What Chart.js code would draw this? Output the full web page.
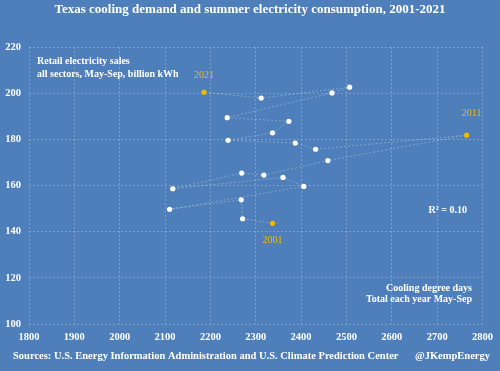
<!DOCTYPE html>
<html>
<head>
<meta charset="utf-8">
<script src="https://cdn.jsdelivr.net/npm/chart.js@4"></script>
<style>
  html, body { margin: 0; padding: 0; background: #4f7fba; }
  #wrap { width: 500px; height: 371px; position: relative; }
</style>
</head>
<body>
<div id="wrap"><canvas id="cdd"></canvas></div>
<script>
// May-Sep cooling degree days and retail electricity sales, Texas
const years = [2001, 2002, 2003, 2004, 2005, 2006, 2007, 2008, 2009, 2010, 2011,
               2012, 2013, 2014, 2015, 2016, 2017, 2018, 2019, 2020, 2021];
const coolingDegreeDays = [2337, 2271, 2268, 2110, 2406, 2360, 2117, 2269, 2318, 2459, 2765,
                           2432, 2387, 2239, 2337, 2373, 2237, 2468, 2507, 2312, 2186];
const salesBillionKwh = [143.6, 145.6, 153.8, 149.7, 159.6, 163.5, 158.6, 165.4, 164.5, 170.8, 181.8,
                         175.7, 178.4, 179.6, 182.8, 187.8, 189.4, 200.1, 202.6, 197.9, 200.4];
const highlightYears = [2001, 2011, 2021];
const xTicks = [1800, 1900, 2000, 2100, 2200, 2300, 2400, 2500, 2600, 2700, 2800];
const yTicks = [100, 120, 140, 160, 180, 200, 220];

const serif = '"Liberation Serif", "DejaVu Serif", serif';
const yellow = '#f5b800';

const points = years.map((yr, i) => ({ x: coolingDegreeDays[i], y: salesBillionKwh[i], year: yr }));

const textPlugin = {
    id: 'texts',
    beforeDraw(chart) {
        const c = chart.ctx;
        c.save();
        c.fillStyle = '#4f7fba';
        c.fillRect(0, 0, chart.width, chart.height);
        c.restore();
    },
    afterDraw(chart) {
        const c = chart.ctx;
        const xs = chart.scales.x, ys = chart.scales.y;
        c.save();
        c.fillStyle = '#ffffff';
        c.textBaseline = 'middle';

        c.font = 'bold 13px ' + serif;
        c.textAlign = 'center';
        c.fillText('Texas cooling demand and summer electricity consumption, 2001-2021', 250, 10);

        c.font = 'bold 10px ' + serif;
        c.textAlign = 'left';
        c.fillText('Retail electricity sales', 37, 61);
        c.fillText('all sectors, May-Sep, billion kWh', 37, 74);

        c.textAlign = 'right';
        c.fillText('Cooling degree days', 472, 288);
        c.fillText('Total each year May-Sep', 472, 299);
        c.fillText('R\u00b2 = 0.10', 467, 210);

        // year labels next to the highlighted points
        c.fillStyle = yellow;
        c.font = '10px ' + serif;
        c.textAlign = 'center';
        points.forEach(p => {
            if (!highlightYears.includes(p.year)) return;
            const px = xs.getPixelForValue(p.x), py = ys.getPixelForValue(p.y);
            if (p.year === 2001) c.fillText(String(p.year), px, py + 17);
            else if (p.year === 2011) c.fillText(String(p.year), px + 5, py - 22);
            else c.fillText(String(p.year), px, py - 17);
        });

        c.fillStyle = '#ffffff';
        c.font = 'bold 10.5px ' + serif;
        c.textAlign = 'left';
        c.fillText('Sources: U.S. Energy Information Administration and U.S. Climate Prediction Center', 13, 356);
        c.textAlign = 'right';
        c.fillText('@JKempEnergy', 490, 356);
        c.restore();
    }
};

new Chart(document.getElementById('cdd'), {
    type: 'scatter',
    data: {
        datasets: [{
            data: points,
            showLine: true,
            borderColor: 'rgba(255,255,255,0.28)',
            borderWidth: 1,
            borderDash: [2, 2],
            pointRadius: 2.6,
            pointBorderWidth: 0,
            pointBackgroundColor: points.map(p => highlightYears.includes(p.year) ? yellow : '#ffffff'),
            tension: 0
        }]
    },
    options: {
        responsive: true,
        maintainAspectRatio: false,
        animation: false,
        layout: { padding: { top: 47, right: 17, bottom: 25, left: 0 } },
        scales: {
            x: {
                type: 'linear',
                min: xTicks[0], max: xTicks[xTicks.length - 1],
                afterBuildTicks: s => { s.ticks = xTicks.map(v => ({ value: v })); },
                afterFit: s => { s.height = 22; },
                grid: { color: 'rgba(255,255,255,0.25)', drawTicks: false },
                border: { display: false, dash: [2, 2] },
                ticks: {
                    color: '#ffffff', padding: 7,
                    font: { family: serif, size: 10.5, weight: 'bold' },
                    callback: v => String(v)
                }
            },
            y: {
                type: 'linear',
                min: yTicks[0], max: yTicks[yTicks.length - 1],
                afterBuildTicks: s => { s.ticks = yTicks.map(v => ({ value: v })); },
                afterFit: s => { s.width = 29; },
                grid: { color: 'rgba(255,255,255,0.25)', drawTicks: false },
                border: { display: false, dash: [2, 2] },
                ticks: {
                    color: '#ffffff', padding: 8,
                    font: { family: serif, size: 10.5, weight: 'bold' },
                    callback: v => String(v)
                }
            }
        },
        plugins: { legend: { display: false }, tooltip: { enabled: false } }
    },
    plugins: [textPlugin]
});
</script>
</body>
</html>
